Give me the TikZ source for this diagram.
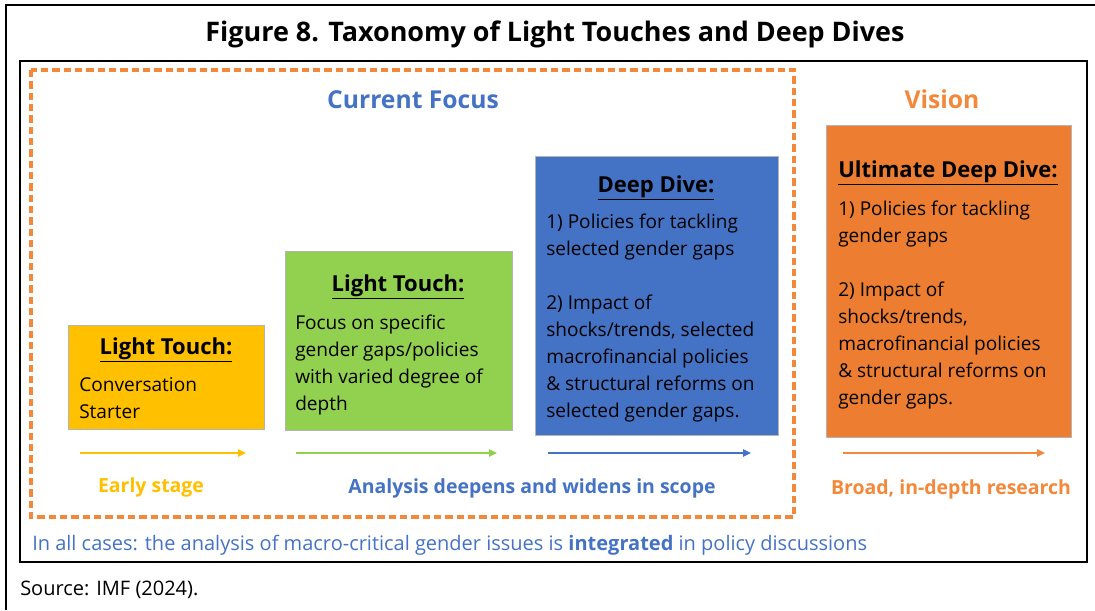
\documentclass[tikz,border=0pt]{standalone}
\usepackage{fontspec}
\setmainfont{Open Sans}
\usetikzlibrary{arrows.meta}

\definecolor{ltyellow}{HTML}{FFC000}
\definecolor{ltgreen}{HTML}{92D050}
\definecolor{ddblue}{HTML}{4472C4}
\definecolor{udorange}{HTML}{ED7D31}
\definecolor{visionorange}{HTML}{F3883A}
\definecolor{boxedge}{HTML}{B4B4B4}

\tikzset{
  stagebox/.style={draw=boxedge, line width=0.8pt, anchor=north west, inner sep=0pt},
  heading/.style={font=\fontsize{16.5}{20.25}\selectfont\bfseries, inner sep=0pt},
  bodytext/.style={font=\fontsize{14.3}{20.25}\selectfont, align=left, anchor=north west, inner sep=0pt},
  stagearrow/.style={line width=1.3pt, -{Triangle[length=6pt,width=5.5pt]}},
  steplabel/.style={font=\fontsize{14.6}{17}\selectfont\bfseries, inner sep=0pt},
  colhead/.style={font=\fontsize{18.5}{22}\selectfont\bfseries, inner sep=0pt},
}

\begin{document}
\begin{tikzpicture}[x=0.75pt, y=-0.75pt]
\useasboundingbox (0,0) rectangle (1095,610);

% page frame (top and left rules)
\draw[line width=1.8pt] (6,610) -- (6,5) -- (1095,5);

% title
\node[font=\fontsize{20.2}{24}\selectfont\bfseries, inner sep=0pt] (title) at (555,34)
  {Figure 8. Taxonomy of Light Touches and Deep Dives};

% inner panel
\draw[line width=1.3pt] (20,61) rectangle (1087,562);

% dashed outline around the current-focus group
\draw[visionorange, line width=2.4pt, dash pattern=on 5.5pt off 3pt] (31,70) rectangle (794,517);

% column headings
\node[colhead, text=ddblue] (focus) at (413,100) {Current Focus};
\node[colhead, text=visionorange] (vision) at (942,99) {Vision};

% stage boxes
\node[stagebox, fill=ltyellow, minimum width=196*0.75pt, minimum height=104*0.75pt] (b1) at (68,325) {};
\node[stagebox, fill=ltgreen, minimum width=227*0.75pt, minimum height=179*0.75pt] (b2) at (285,251) {};
\node[stagebox, fill=ddblue, minimum width=243*0.75pt, minimum height=279*0.75pt] (b3) at (535,156) {};
\node[stagebox, fill=udorange, minimum width=245*0.75pt, minimum height=312*0.75pt] (b4) at (826,125) {};

% box contents
\node[heading] (h1) at (166,350) {\underline{Light Touch:}};
\node[bodytext] (t1) at (79,377) {Conversation\\Starter};

\node[heading] (h2) at (398,287) {\underline{Light Touch:}};
\node[bodytext] (t2) at (295,315) {Focus on specific\\gender gaps/policies\\with varied degree of\\depth};

\node[heading] (h3) at (656,188) {\underline{Deep Dive:}};
\node[bodytext] (t3) at (546,214) {1) Policies for tackling\\selected gender gaps\\[20.25pt]2) Impact of\\shocks/trends, selected\\macrofinancial policies\\\& structural reforms on\\selected gender gaps.};

\node[heading] (h4) at (948,173) {\underline{Ultimate Deep Dive:}};
\node[bodytext] (t4) at (838,201) {1) Policies for tackling\\gender gaps\\[20.25pt]2) Impact of\\shocks/trends,\\macrofinancial policies\\\& structural reforms on\\gender gaps.};

% progression arrows
\coordinate (a1s) at (80,453);  \coordinate (a1e) at (246,453);
\coordinate (a2s) at (296,453); \coordinate (a2e) at (497,453);
\coordinate (a3s) at (548,453); \coordinate (a3e) at (751,453);
\coordinate (a4s) at (843,453); \coordinate (a4e) at (1045,453);
\draw[stagearrow, ltyellow] (a1s) -- (a1e);
\draw[stagearrow, ltgreen] (a2s) -- (a2e);
\draw[stagearrow, ddblue] (a3s) -- (a3e);
\draw[stagearrow, visionorange] (a4s) -- (a4e);

% stage labels
\node[steplabel, text=ltyellow] (l1) at (151,487) {Early stage};
\node[steplabel, text=ddblue] (l2) at (532,488) {Analysis deepens and widens in scope};
\node[steplabel, text=visionorange] (l3) at (951,489) {Broad, in-depth research};

% footnote inside the panel
\node[anchor=west, inner sep=0pt, text=ddblue, font=\fontsize{15}{18}\selectfont] (note) at (32,545)
  {In all cases: the analysis of macro-critical gender issues is \textbf{integrated} in policy discussions};

% source line
\node[anchor=west, inner sep=0pt, font=\fontsize{15}{18}\selectfont] (source) at (20,590) {Source: IMF (2024).};
\end{tikzpicture}
\end{document}
